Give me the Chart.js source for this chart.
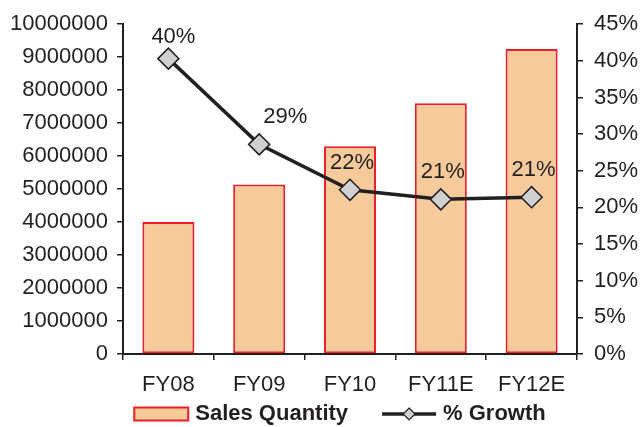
<!DOCTYPE html>
<html>
<head>
<meta charset="utf-8">
<script src="https://cdn.jsdelivr.net/npm/chart.js@4/dist/chart.umd.min.js"></script>
<style>
  html, body { margin: 0; padding: 0; background: #fff; }
  #wrap { width: 640px; height: 427px; }
</style>
</head>
<body>
<div id="wrap"><canvas id="salesChart" width="640" height="427"></canvas></div>
<script>
// Chart data
const categories = ["FY08", "FY09", "FY10", "FY11E", "FY12E"];
const salesQuantity = [4000000, 5140000, 6300000, 7600000, 9250000];
const growthPct = [40.3, 28.6, 22.4, 21.1, 21.4];

const ink = "#231f20";
const barFill = "#f6ca9a";
const barEdge = "#ea1f2a";
const markerFill = "#d0d0d0";
const fontFamily = "'Liberation Sans', Arial, sans-serif";

// percent labels above the line points
const pointLabels = {
  id: "pointLabels",
  afterDatasetsDraw(chart) {
    const meta = chart.getDatasetMeta(1);
    const ctx = chart.ctx;
    ctx.save();
    ctx.font = "22px " + fontFamily;
    ctx.fillStyle = ink;
    ctx.textAlign = "center";
    ctx.textBaseline = "middle";
    meta.data.forEach((pt, i) => {
      const dx = i === 1 ? 26 : (i === 0 ? 5 : 2);
      const dy = i === 0 ? -22 : -27;
      ctx.fillText(Math.round(growthPct[i]) + "%", pt.x + dx, pt.y + dy);
    });
    ctx.restore();
  },
};

// legend below the axis: bar swatch, then line with diamond
const bottomLegend = {
  id: "bottomLegend",
  afterDraw(chart) {
    const ctx = chart.ctx;
    const area = chart.chartArea;
    const ds = chart.data.datasets;
    const y = 414;
    const sw = 54, gapText = 7, gapItem = 34;
    ctx.save();
    ctx.font = "bold 22px " + fontFamily;
    ctx.textBaseline = "middle";
    const w0 = ctx.measureText(ds[0].label).width;
    const w1 = ctx.measureText(ds[1].label).width;
    const total = sw + gapText + w0 + gapItem + sw + gapText + w1;
    let x = (area.left + area.right) / 2 - 10 - total / 2;
    // bar swatch
    ctx.fillStyle = barFill;
    ctx.fillRect(x, y - 6.5, sw, 13);
    ctx.strokeStyle = barEdge;
    ctx.lineWidth = 2;
    ctx.strokeRect(x, y - 6.5, sw, 13);
    x += sw + gapText;
    ctx.fillStyle = ink;
    ctx.fillText(ds[0].label, x, y);
    x += w0 + gapItem;
    // line swatch
    ctx.strokeStyle = ink;
    ctx.lineWidth = 3.5;
    ctx.beginPath(); ctx.moveTo(x, y); ctx.lineTo(x + sw, y); ctx.stroke();
    const cx = x + sw / 2;
    ctx.beginPath();
    ctx.moveTo(cx, y - 6); ctx.lineTo(cx + 6, y); ctx.lineTo(cx, y + 6); ctx.lineTo(cx - 6, y);
    ctx.closePath();
    ctx.fillStyle = markerFill; ctx.fill();
    ctx.lineWidth = 1.2; ctx.stroke();
    x += sw + gapText;
    ctx.fillStyle = ink;
    ctx.fillText(ds[1].label, x, y);
    ctx.restore();
  },
};

Chart.defaults.font.family = fontFamily;
Chart.defaults.font.size = 22;
Chart.defaults.color = ink;

new Chart(document.getElementById("salesChart").getContext("2d"), {
  data: {
    labels: categories,
    datasets: [
      {
        type: "bar",
        label: "Sales Quantity",
        data: salesQuantity,
        backgroundColor: barFill,
        borderColor: barEdge,
        borderWidth: 2,
        borderSkipped: false,
        barPercentage: 0.573,
        categoryPercentage: 1,
        yAxisID: "y",
        order: 2,
      },
      {
        type: "line",
        label: "% Growth",
        data: growthPct,
        borderColor: ink,
        borderWidth: 3.5,
        pointStyle: "rectRot",
        pointRadius: 10.5,
        pointBackgroundColor: markerFill,
        pointBorderColor: ink,
        pointBorderWidth: 1.5,
        tension: 0,
        yAxisID: "y1",
        order: 1,
      },
    ],
  },
  options: {
    responsive: false,
    animation: false,
    layout: { padding: { top: 22, bottom: 25, left: 0, right: 0 } },
    plugins: {
      title: { display: false },
      tooltip: { enabled: false },
      legend: { display: false },
    },
    scales: {
      x: {
        offset: true,
        afterFit(s) { s.height = 48; },
        grid: { display: true, offset: true, drawOnChartArea: false, tickLength: 6, color: ink, lineWidth: 1.5 },
        border: { display: true, color: ink, width: 2 },
        ticks: { padding: 12, color: ink },
      },
      y: {
        position: "left",
        min: 0,
        max: 10000000,
        afterFit(s) { s.width = 123; },
        grid: { drawOnChartArea: false, tickLength: 6, color: ink, lineWidth: 1.5 },
        border: { display: true, color: ink, width: 2 },
        ticks: { stepSize: 1000000, padding: 9, color: ink, callback: (v) => String(v) },
      },
      y1: {
        position: "right",
        min: 0,
        max: 45,
        afterFit(s) { s.width = 63; },
        grid: { drawOnChartArea: false, tickLength: 6, color: ink, lineWidth: 1.5 },
        border: { display: true, color: ink, width: 2 },
        ticks: { stepSize: 5, padding: 11, color: ink, callback: (v) => v + "%" },
      },
    },
  },
  plugins: [pointLabels, bottomLegend],
});
</script>
</body>
</html>
